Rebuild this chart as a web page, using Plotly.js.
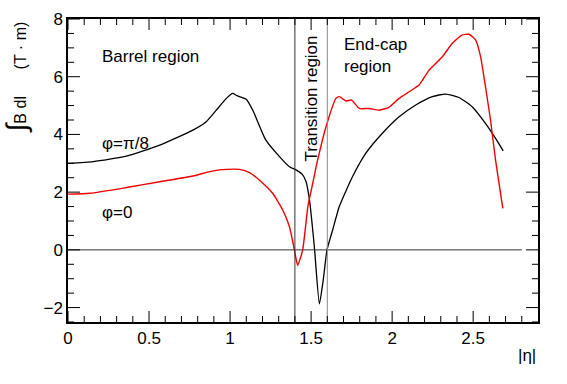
<!DOCTYPE html>
<html>
<head>
<meta charset="utf-8">
<script src="https://cdn.plot.ly/plotly-3.0.1.min.js"></script>
<style>
  html, body { margin: 0; padding: 0; background: #fff; }
  #chart { width: 567px; height: 384px; }
</style>
</head>
<body>
<div id="chart"></div>
<script>
// phi = pi/8 curve (black)
var etaPi8 = [0, 0.156, 0.361, 0.566, 0.771, 0.853, 0.915, 0.977, 1.017, 1.04, 1.069, 1.10, 1.14, 1.22, 1.305, 1.366, 1.407, 1.448, 1.469, 1.49, 1.52, 1.551, 1.575, 1.598, 1.633, 1.674, 1.756, 1.838, 1.94, 2.043, 2.146, 2.248, 2.33, 2.412, 2.494, 2.576, 2.638, 2.685];
var bdlPi8 = [3.00, 3.06, 3.25, 3.63, 4.15, 4.44, 4.84, 5.25, 5.42, 5.35, 5.29, 5.22, 4.84, 3.81, 3.23, 2.88, 2.77, 2.60, 2.36, 1.73, 0.11, -1.87, -1.04, 0, 0.69, 1.50, 2.54, 3.35, 4.04, 4.61, 5.02, 5.31, 5.40, 5.28, 4.96, 4.38, 3.86, 3.43];

// phi = 0 curve (red)
var etaPhi0 = [0, 0.135, 0.361, 0.566, 0.771, 0.874, 0.935, 0.977, 1.058, 1.12, 1.18, 1.263, 1.325, 1.366, 1.397, 1.417, 1.448, 1.48, 1.51, 1.54, 1.598, 1.653, 1.674, 1.715, 1.75, 1.797, 1.858, 1.92, 1.98, 2.043, 2.105, 2.166, 2.228, 2.31, 2.37, 2.43, 2.474, 2.515, 2.546, 2.576, 2.607, 2.638, 2.683];
var bdlPhi0 = [1.93, 1.96, 2.16, 2.36, 2.56, 2.71, 2.77, 2.79, 2.79, 2.68, 2.42, 1.96, 1.38, 0.81, 0, -0.54, 0, 1.5, 2.3, 3.11, 4.38, 5.25, 5.31, 5.16, 5.19, 4.90, 4.90, 4.84, 4.94, 5.25, 5.48, 5.71, 6.23, 6.69, 7.15, 7.44, 7.47, 7.27, 6.69, 5.65, 4.5, 3.11, 1.44];

// region boundaries in |eta| and the zero reference line extent
var regionEdges = [1.4, 1.6];
var zeroLineEnd = 2.8;

// tick positions (ROOT style: inward ticks on all four sides)
var xMajorTicks = [0, 0.5, 1, 1.5, 2, 2.5];
var yMajorTicks = [-2, 0, 2, 4, 6, 8];
var xMinorTicks = [];
for (var i = 1; i < 29; i++) { if (i % 5) xMinorTicks.push(i / 10); }
var yMinorTicks = [];
for (var j = -5; j < 16; j++) { if (j % 4) yMinorTicks.push(j / 2); }

var fnt = 'Liberation Sans, Arial, Helvetica, sans-serif';

var traces = [
  {
    x: etaPi8, y: bdlPi8,
    mode: 'lines', type: 'scatter',
    line: { color: '#000', width: 1.3, shape: 'spline', smoothing: 0.5 },
    hoverinfo: 'skip'
  },
  {
    x: etaPhi0, y: bdlPhi0,
    mode: 'lines', type: 'scatter',
    line: { color: '#ee0000', width: 1.4, shape: 'spline', smoothing: 0.5 },
    hoverinfo: 'skip'
  }
];

var shapes = [
  { type: 'line', xref: 'x', yref: 'y', x0: 0, x1: zeroLineEnd, y0: 0, y1: 0,
    line: { color: '#333', width: 1 } },
  { type: 'line', xref: 'x', yref: 'paper', x0: regionEdges[0], x1: regionEdges[0], y0: 0, y1: 1,
    line: { color: '#333', width: 1 } },
  { type: 'line', xref: 'x', yref: 'paper', x0: regionEdges[1], x1: regionEdges[1], y0: 0, y1: 1,
    line: { color: '#888', width: 1 } }
];

function xTick(v, len) {
  // bottom and top, length in pixels, placed through the x scale
  shapes.push({ type: 'line', xref: 'x', yref: 'paper', ysizemode: 'pixel', yanchor: 0,
    x0: v, x1: v, y0: 0, y1: len, line: { color: '#000', width: 1 } });
  shapes.push({ type: 'line', xref: 'x', yref: 'paper', ysizemode: 'pixel', yanchor: 1,
    x0: v, x1: v, y0: 0, y1: -len, line: { color: '#000', width: 1 } });
}
function yTick(v, len) {
  // left and right
  shapes.push({ type: 'line', xref: 'paper', yref: 'y', xsizemode: 'pixel', xanchor: 0,
    x0: 0, x1: len, y0: v, y1: v, line: { color: '#000', width: 1 } });
  shapes.push({ type: 'line', xref: 'paper', yref: 'y', xsizemode: 'pixel', xanchor: 1,
    x0: 0, x1: -len, y0: v, y1: v, line: { color: '#000', width: 1 } });
}
xMajorTicks.forEach(function (v) { xTick(v, 11); });
xMinorTicks.forEach(function (v) { xTick(v, 6); });
yMajorTicks.forEach(function (v) { yTick(v, 12); });
yMinorTicks.forEach(function (v) { yTick(v, 6); });

var annotations = [
  { xref: 'x', yref: 'y', x: 0.2, y: 6.7, text: 'Barrel region', showarrow: false,
    xanchor: 'left', yanchor: 'middle', font: { family: fnt, size: 17, color: '#000' } },
  { xref: 'x', yref: 'y', x: 1.69, y: 6.75, text: 'End-cap<br>region', showarrow: false,
    xanchor: 'left', yanchor: 'middle', align: 'left', font: { family: fnt, size: 17, color: '#000' } },
  { xref: 'x', yref: 'y', x: 1.5, y: 5.25, text: 'Transition region', showarrow: false,
    textangle: -90, xanchor: 'center', yanchor: 'middle', font: { family: fnt, size: 17, color: '#000' } },
  { xref: 'x', yref: 'y', x: 0.2, y: 3.67, text: '\u03c6=\u03c0/8', showarrow: false,
    xanchor: 'left', yanchor: 'middle', font: { family: fnt, size: 17, color: '#000' } },
  { xref: 'x', yref: 'y', x: 0.2, y: 1.31, text: '\u03c6=0', showarrow: false,
    xanchor: 'left', yanchor: 'middle', font: { family: fnt, size: 17, color: '#000' } },
  { xref: 'paper', yref: 'paper', x: 1, y: -0.109, text: '|\u03b7|', showarrow: false,
    xanchor: 'right', yanchor: 'middle', font: { family: fnt, size: 17, color: '#000' } },
  { xref: 'paper', yref: 'paper', x: -0.11, y: 1.0,
    text: '<span style="font-size:28px">\u222b</span>B dl\u00a0\u00a0\u00a0\u00a0\u00a0\u00a0(T \u00b7 m)',
    showarrow: false, textangle: -90, xanchor: 'center', yanchor: 'top',
    font: { family: fnt, size: 16, color: '#000' } }
];

var layout = {
  width: 567,
  height: 384,
  showlegend: false,
  margin: { l: 68, r: 29, t: 19, b: 62 },
  font: { family: fnt, size: 17, color: '#000' },
  xaxis: {
    range: [0, 2.9],
    dtick: 0.5,
    ticks: '',
    showline: true,
    linecolor: '#000',
    linewidth: 1.5,
    mirror: true,
    showgrid: false,
    zeroline: false,
    tickfont: { family: fnt, size: 17, color: '#000' }
  },
  yaxis: {
    range: [-2.5, 8],
    dtick: 2,
    ticks: '',
    showline: true,
    linecolor: '#000',
    linewidth: 1.5,
    mirror: true,
    showgrid: false,
    zeroline: false,
    tickfont: { family: fnt, size: 17, color: '#000' }
  },
  shapes: shapes,
  annotations: annotations
};

Plotly.newPlot('chart', traces, layout, { displayModeBar: false });
</script>
</body>
</html>
